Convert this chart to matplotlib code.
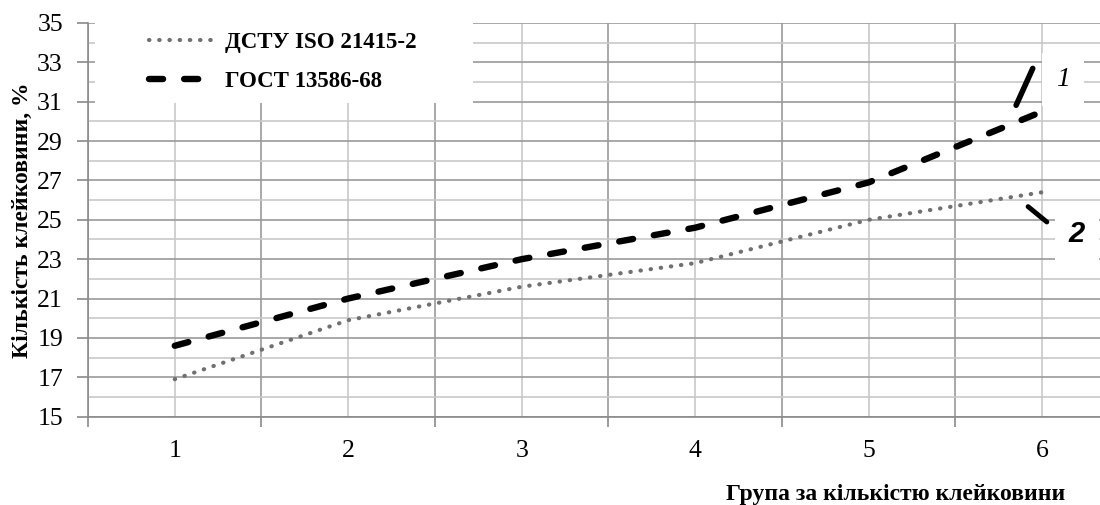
import matplotlib.pyplot as plt
from matplotlib.patches import Rectangle
from matplotlib.ticker import FixedLocator

groups = [1, 2, 3, 4, 5, 6]
dstu = [16.9, 19.9, 21.6, 22.8, 25.0, 26.4]
gost = [18.6, 21.0, 23.0, 24.6, 26.9, 30.5]
legend_labels = ["ДСТУ ISO 21415-2", "ГОСТ 13586-68"]

plt.rcParams['font.family'] = ['Liberation Serif', 'DejaVu Serif']

fig = plt.figure(figsize=(11, 5.05), dpi=100)
ax = fig.add_axes([0.08, 0.175, 0.92, 0.7795])

ax.set_xlim(0.5, 6.333)
ax.set_ylim(15, 35)
ax.set_axisbelow(True)

# grid: darker at boundaries / odd values, lighter at centers / even values
ax.xaxis.set_major_locator(FixedLocator([0.5, 1.5, 2.5, 3.5, 4.5, 5.5]))
ax.xaxis.set_minor_locator(FixedLocator(groups))
ax.set_xticklabels([])
ax.set_xticklabels([str(g) for g in groups], minor=True)
ax.yaxis.set_major_locator(FixedLocator(range(15, 36, 2)))
ax.yaxis.set_minor_locator(FixedLocator(range(16, 35, 2)))
ax.grid(which='major', color='#9a9a9a', lw=1.2)
ax.grid(which='minor', color='#c8c8c8', lw=1.2)
ax.tick_params(axis='x', which='major', length=7, width=1.2, color='#8a8a8a')
ax.tick_params(axis='x', which='minor', length=0, pad=17, labelsize=18.5)
ax.tick_params(axis='y', which='major', length=8, width=1.2, color='#8a8a8a',
               pad=10, labelsize=18.5)
ax.tick_params(axis='y', which='minor', length=0)

for s in ['top', 'right']:
    ax.spines[s].set_visible(False)
for s in ['left', 'bottom']:
    ax.spines[s].set_color('#8a8a8a')
    ax.spines[s].set_linewidth(1.2)

# white legend area over the grid
ax.add_patch(Rectangle((0.007, 0.797), 0.373, 0.203, transform=ax.transAxes,
                       facecolor='white', edgecolor='none', zorder=1))

ax.plot(groups, dstu, color='#707070', lw=3, linestyle=(0, (0.1, 2.35)),
        dash_capstyle='round', label=legend_labels[0], zorder=3)
ax.plot(groups, gost, color='black', lw=4.6, linestyle=(0, (2.2, 3.3)),
        dash_capstyle='round', label=legend_labels[1], zorder=3)

leg = ax.legend(loc='upper left', bbox_to_anchor=(0.04, 1.03), frameon=False,
                handlelength=2.85, labelspacing=0.8, handletextpad=0.45,
                prop={'family': 'Liberation Serif', 'weight': 'bold', 'size': 16.5})

# curve labels with leader lines
ax.text(6.12, 32.13, '1', fontsize=20, style='italic', ha='center', va='center',
        bbox=dict(facecolor='white', edgecolor='none', pad=10), zorder=4)
ax.annotate('', xy=(5.952, 32.82), xytext=(5.843, 30.69),
            arrowprops=dict(arrowstyle='-', lw=4, color='black'), zorder=5)
ax.text(6.20, 24.3, '2', fontsize=21, style='italic', weight='bold',
        family='Liberation Sans', ha='center', va='center',
        bbox=dict(facecolor='white', edgecolor='none', pad=10), zorder=4)
ax.annotate('', xy=(6.039, 24.80), xytext=(5.906, 25.76),
            arrowprops=dict(arrowstyle='-', lw=3.5, color='black'), zorder=5)

fig.text(0.02, 0.564, 'Кількість клейковини, %', rotation=90, ha='center',
         va='center', fontsize=17, weight='bold')
fig.text(0.814, 0.02, 'Група за кількістю клейковини', ha='center',
         va='center', fontsize=17, weight='bold')

fig.savefig('out.png', dpi=100)
